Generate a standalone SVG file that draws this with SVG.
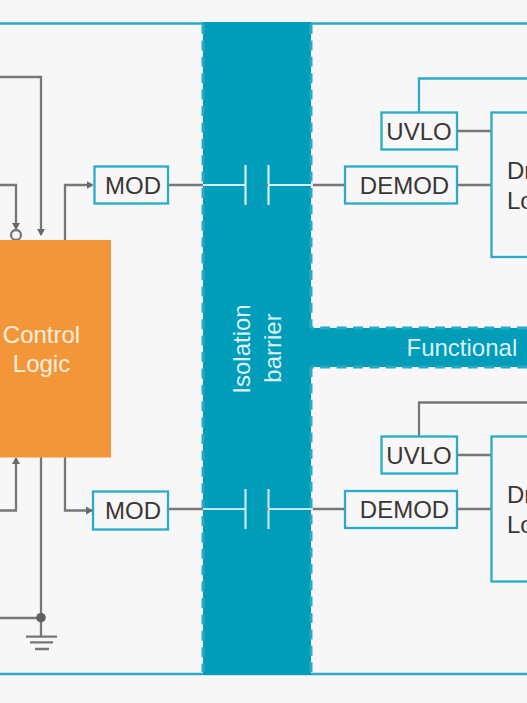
<svg xmlns="http://www.w3.org/2000/svg" width="527" height="703" viewBox="0 0 527 703">
<style>
text{font-family:"Liberation Sans",Arial,sans-serif;font-size:24px}
.box{fill:#f7f7f7;stroke:#2cabc8;stroke-width:2.300}
.lbl{fill:#3a3636}
.lt{fill:#dcf0f5}
.g{fill:none;stroke:#777;stroke-width:2.300}
.t{fill:none;stroke:#2cabc8;stroke-width:2.300}
.w{fill:none;stroke:#d9eff4;stroke-width:2.200}
.dash{fill:none;stroke:#2aa9c6;stroke-width:3;stroke-dasharray:10 6.4}
</style>
<defs>
<marker id="arr" markerUnits="userSpaceOnUse" markerWidth="9" markerHeight="9" refX="6" refY="4.500" orient="auto">
<path d="M0 0.500L7 4.500L0 8.500Z" fill="#6a6a6a"/>
</marker>
</defs>
<rect width="527" height="703" fill="#f7f7f7"/>
<g id="frame">
<path class="t" d="M0 23.500H527M0 674H527"/>
</g>
<g id="isolation-barrier">
<path d="M203 22H311V328H527V367H311V675H203Z" fill="#009dbb"/>
<path class="dash" d="M203 24V672M311 24V328M527 328H311M527 367H311M311 367V672"/>
<text class="lt" transform="translate(250 349) rotate(-90)" text-anchor="middle">Isolation</text>
<text class="lt" transform="translate(281 348) rotate(-90)" text-anchor="middle">barrier</text>
<text class="lt" x="406.500" y="356">Functional</text>
</g>
<g id="connectors">
<path class="g" d="M0 77H41V235" marker-end="url(#arr)"/>
<path class="g" d="M0 185H16V229" marker-end="url(#arr)"/>
<path class="g" d="M65 240V185H92.500" marker-end="url(#arr)"/>
<path class="g" d="M65 457V510.500H92" marker-end="url(#arr)"/>
<path class="g" d="M0 510.500H16V458" marker-end="url(#arr)"/>
<path class="g" d="M41 457V637M0 618H41"/>
<path class="g" d="M168 185H203M312 185H345M457 131H491M457 185H491"/>
<path class="g" d="M168 509H203M312 509H345M457 455H491M457 509H491"/>
<path class="g" d="M419 436V402.500H527"/>
<path class="t" d="M419 112V78.500H527"/>
<path class="w" d="M203 185H245.500M245.500 165V205M268.500 165V205M268.500 185H313"/>
<path class="w" stroke-opacity=".9" d="M203 509H245.500M245.500 489V529M268.500 489V529M268.500 509H313"/>
<path class="g" d="M266 185H268M266 509H268"/>
</g>
<g id="inverter-bubble">
<circle cx="16" cy="235" r="5" fill="#f7f7f7" stroke="#777" stroke-width="2.300"/>
</g>
<g id="ground">
<circle cx="41" cy="617.700" r="4.800" fill="#5f5f5f"/>
<path class="g" d="M26 636.700H57M30 642.300H53M35 649H49"/>
</g>
<g id="control-logic">
<rect x="0" y="240" width="111" height="217.500" fill="#f39639"/>
<text x="41.500" y="343" text-anchor="middle" fill="#fdeedd">Control</text>
<text x="41.500" y="372" text-anchor="middle" fill="#fdeedd">Logic</text>
</g>
<g id="mod-top">
<rect class="box" x="94.500" y="166.500" width="73.500" height="37"/>
<text class="lbl" x="133" y="194" text-anchor="middle">MOD</text>
</g>
<g id="mod-bottom">
<rect class="box" x="93" y="491.500" width="75" height="38"/>
<text class="lbl" x="133" y="519" text-anchor="middle">MOD</text>
</g>
<g id="uvlo-top">
<rect class="box" x="381.500" y="112.500" width="75.500" height="37"/>
<text class="lbl" x="419" y="140" text-anchor="middle">UVLO</text>
</g>
<g id="demod-top">
<rect class="box" x="345" y="166.500" width="112" height="37"/>
<text class="lbl" x="404.500" y="194" text-anchor="middle">DEMOD</text>
</g>
<g id="driver-top">
<rect class="box" x="491.500" y="112.500" width="60" height="144.500"/>
<text class="lbl" x="507" y="178.500">Dr</text>
<text class="lbl" x="507" y="208.500">Lo</text>
</g>
<g id="uvlo-bottom">
<rect class="box" x="381.500" y="436.500" width="75.500" height="37"/>
<text class="lbl" x="419" y="463.500" text-anchor="middle">UVLO</text>
</g>
<g id="demod-bottom">
<rect class="box" x="345" y="491" width="112" height="37"/>
<text class="lbl" x="404.500" y="518" text-anchor="middle">DEMOD</text>
</g>
<g id="driver-bottom">
<rect class="box" x="491.500" y="436.500" width="60" height="145"/>
<text class="lbl" x="507" y="503">Dr</text>
<text class="lbl" x="507" y="533">Lo</text>
</g>
</svg>
